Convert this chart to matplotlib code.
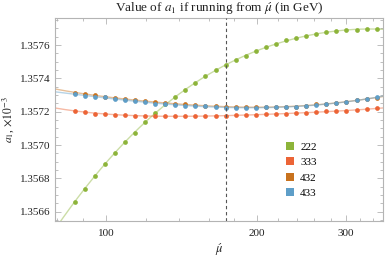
import numpy as np
import matplotlib
matplotlib.use("Agg")
import matplotlib.pyplot as plt
from matplotlib.ticker import FixedLocator, NullFormatter, MultipleLocator, FormatStrFormatter
from matplotlib.lines import Line2D

plt.rcParams['font.family'] = ['Liberation Serif', 'DejaVu Serif']
plt.rcParams['mathtext.fontset'] = 'stix'

# ---- data ----
mu = [86.5, 90.591, 94.875, 99.362, 104.061, 108.982, 114.136, 119.534, 125.187,
      131.108, 137.308, 143.802, 150.603, 157.725, 165.184, 173.0, 181.181, 189.750,
      198.723, 208.121, 217.964, 228.272, 239.067, 250.373, 262.214, 274.615,
      287.602, 301.203, 315.448, 330.366, 346.0]
mt = 173.0

a1_222 = [1.356658, 1.356736, 1.356816, 1.356884, 1.356950, 1.357018, 1.357074,
          1.357138, 1.357192, 1.357244, 1.357290, 1.357330, 1.357372, 1.357412,
          1.357452, 1.357480, 1.357508, 1.357536, 1.357564, 1.357588, 1.357604,
          1.357628, 1.357640, 1.357654, 1.357666, 1.357680, 1.357682, 1.357692,
          1.357690, 1.357698, 1.357696]
a1_333 = [1.357205, 1.357199, 1.357189, 1.357186, 1.357183, 1.357179, 1.357176,
          1.357174, 1.357173, 1.357173, 1.357173, 1.357173, 1.357173, 1.357173,
          1.357173, 1.357173, 1.357179, 1.357181, 1.357182, 1.357186, 1.357186,
          1.357187, 1.357192, 1.357193, 1.357197, 1.357202, 1.357204, 1.357206,
          1.357209, 1.357215, 1.357220]
a1_432 = [1.357315, 1.357306, 1.357302, 1.357290, 1.357281, 1.357275, 1.357270,
          1.357265, 1.357256, 1.357254, 1.357244, 1.357244, 1.357238, 1.357236,
          1.357234, 1.357231, 1.357230, 1.357228, 1.357226, 1.357227, 1.357227,
          1.357229, 1.357231, 1.357234, 1.357248, 1.357247, 1.357252, 1.357259,
          1.357268, 1.357276, 1.357285]
a1_433 = [1.357306, 1.357294, 1.357290, 1.357286, 1.357274, 1.357270, 1.357265,
          1.357257, 1.357248, 1.357244, 1.357240, 1.357236, 1.357236, 1.357234,
          1.357228, 1.357221, 1.357223, 1.357225, 1.357224, 1.357226, 1.357226,
          1.357228, 1.357230, 1.357233, 1.357240, 1.357246, 1.357252, 1.357259,
          1.357268, 1.357276, 1.357286]

labels = ["222", "333", "432", "433"]
colors = ["#8db43a", "#ec6436", "#c8721e", "#5e9ec8"]
series = [a1_222, a1_333, a1_432, a1_433]

xlim = (79.2, 357.0)
ylim = (1.356544, 1.357764)

fig = plt.figure(figsize=(3.85, 2.59), dpi=100)
ax = fig.add_axes([0.1436, 0.1467, 0.9961 - 0.1436, 0.9317 - 0.1467])
ax.set_xscale('log')

x = np.array(mu)
lx = np.log(x)
xf = np.exp(np.linspace(np.log(xlim[0]), np.log(xlim[1]), 300))
for ys, c in zip(series, colors):
    p = np.polyfit(lx, np.array(ys), 5)
    ax.plot(xf, np.polyval(p, np.log(xf)), color=c, lw=1.0, alpha=0.45, zorder=2)
for ys, c in zip(series, colors):
    ax.plot(x, ys, 'o', color=c, ms=3.4, mew=0, zorder=3)

ax.axvline(mt, color='#555555', lw=0.8, ls=(0, (3, 2.5)), zorder=4)

ax.set_xlim(*xlim)
ax.set_ylim(*ylim)

ax.xaxis.set_major_locator(FixedLocator([100, 200, 300]))
ax.xaxis.set_minor_locator(FixedLocator([80, 90, 120, 140, 160, 180, 220, 240, 260, 280, 320, 340]))
ax.xaxis.set_major_formatter(FormatStrFormatter('%d'))
ax.xaxis.set_minor_formatter(NullFormatter())
ax.yaxis.set_major_locator(MultipleLocator(0.0002))
ax.yaxis.set_minor_locator(MultipleLocator(0.00005))
ax.yaxis.set_major_formatter(FormatStrFormatter('%.4f'))

for s in ax.spines.values():
    s.set_color('#b4b4b4')
    s.set_linewidth(0.8)
ax.tick_params(which='both', direction='in', top=True, right=True, color='#b4b4b4',
               labelsize=8, labelcolor='#222222', width=0.6)
ax.tick_params(which='major', length=4)
ax.tick_params(which='minor', length=2)
ax.tick_params(axis='x', pad=6)

ax.set_title(r"Value of $a_1$ if running from $\acute{\mu}$ (in GeV)", fontsize=9.5,
             color='#222222', pad=4)
ax.set_xlabel(r"$\acute{\mu}$", fontsize=9, color='#222222', labelpad=2)
ax.set_ylabel(r"$a_1$, $\times10^{-3}$", fontsize=8.5, color='#222222', labelpad=3)

handles = [Line2D([], [], marker='s', ls='none', color=c, ms=6, mew=0) for c in colors]
ax.legend(handles, labels, loc='center left', bbox_to_anchor=(0.702, 0.251),
          frameon=False, fontsize=8, handlelength=0.8, handletextpad=0.5,
          labelspacing=0.5, borderpad=0, borderaxespad=0)

fig.savefig("out.png", dpi=100)
